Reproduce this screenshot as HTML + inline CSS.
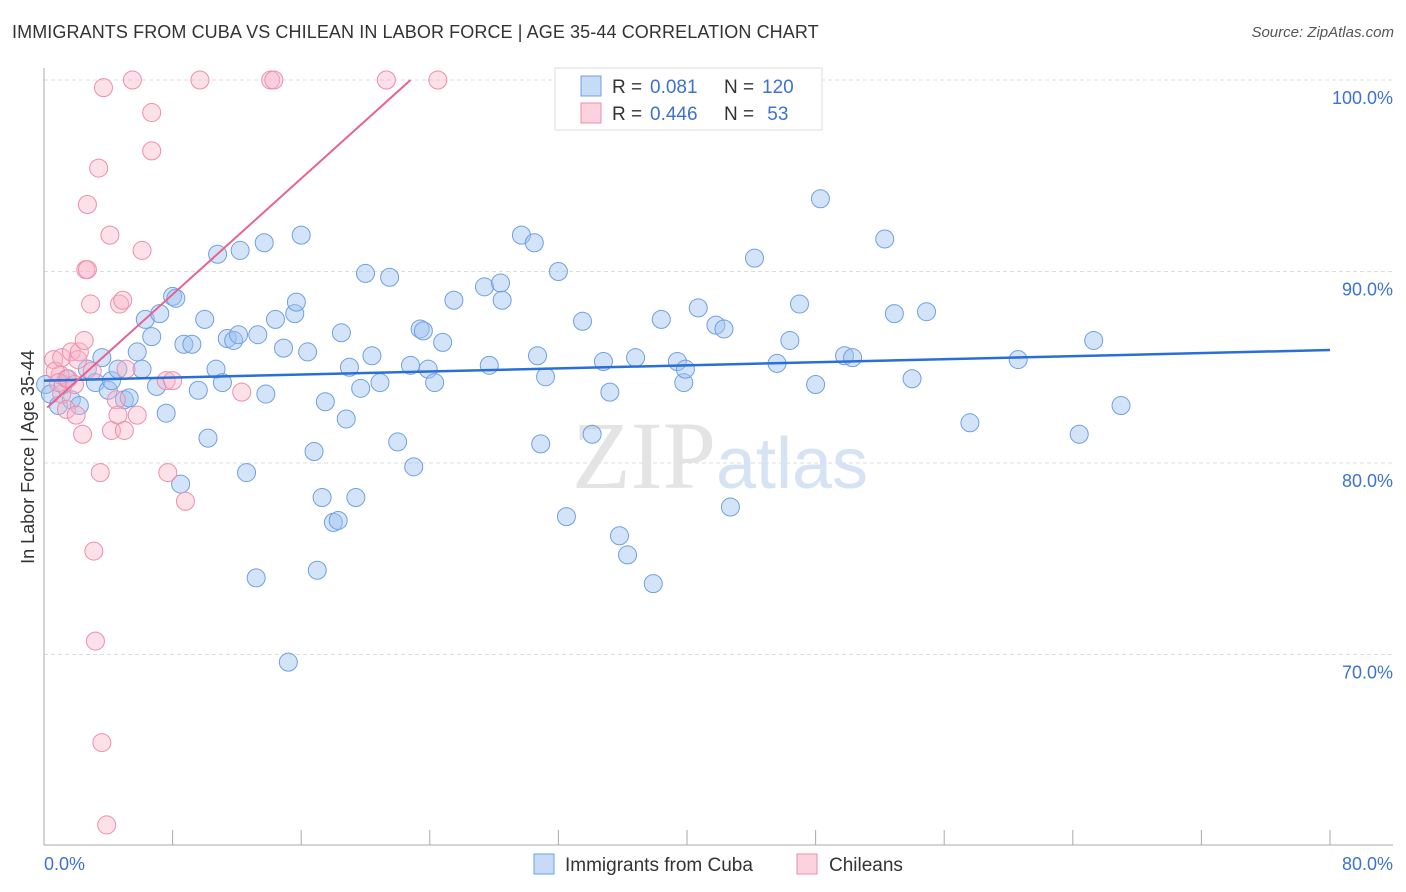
<!DOCTYPE html>
<html><head><meta charset="utf-8"><style>
body{margin:0;background:#fff;font-family:"Liberation Sans",sans-serif;}
#wrap{position:relative;width:1406px;height:892px;overflow:hidden;}
.title{position:absolute;left:12px;top:22px;font-size:18px;color:#333;letter-spacing:0.1px}
.src{position:absolute;right:12px;top:24px;font-size:15px;color:#555;font-style:italic}
</style></head><body>
<div id="wrap">
<div class="title">IMMIGRANTS FROM CUBA VS CHILEAN IN LABOR FORCE | AGE 35-44 CORRELATION CHART</div>
<div class="src">Source: ZipAtlas.com</div>
<svg id="svg" width="1406" height="892" style="position:absolute;left:0;top:0"></svg>
</div>
<script>
const blueX=[0.1,0.4,0.9,1.2,1.7,2.2,1.4,2.7,3.2,3.6,4.0,4.2,4.6,5.0,5.3,5.8,6.1,6.3,6.7,7.0,7.2,7.6,8.0,8.2,8.5,8.7,9.2,9.6,10.0,10.2,10.7,10.8,11.1,11.4,11.8,12.1,12.2,12.6,13.2,13.3,13.7,13.8,14.4,14.9,15.2,15.6,15.7,16.0,16.4,16.8,17.0,17.3,17.5,18.0,18.3,18.5,18.8,19.0,19.4,19.7,20.0,20.4,20.9,21.5,22.0,22.8,23.0,23.4,23.6,23.9,24.3,24.8,25.5,27.4,27.7,28.4,28.5,29.7,30.5,30.7,30.9,31.2,32.0,32.5,33.5,34.1,34.8,35.2,35.8,36.3,36.8,37.9,38.4,39.4,39.8,39.9,40.7,41.8,42.3,42.7,44.2,45.6,46.4,47.0,48.0,48.3,49.8,50.3,52.3,52.9,54.0,54.9,57.6,60.6,64.4,65.3,67.0];
const blueY=[84.1,83.6,83.0,84.1,83.3,83.0,84.4,84.9,84.2,85.5,83.8,84.3,84.9,83.3,83.4,85.8,84.9,87.5,86.6,84.0,87.8,82.6,88.7,88.6,78.9,86.2,86.2,83.8,87.5,81.3,84.9,90.9,84.2,86.5,86.4,86.7,91.1,79.5,74.0,86.7,91.5,83.6,87.5,86.0,69.6,87.8,88.4,91.9,85.8,80.6,74.4,78.2,83.2,76.9,77.0,86.8,82.3,85.0,78.2,83.9,89.9,85.6,84.2,89.7,81.1,85.1,79.8,87.0,86.9,84.9,84.2,86.3,88.5,89.2,85.1,89.4,88.5,91.9,91.5,85.6,81.0,84.5,90.0,77.2,87.4,81.5,85.3,83.7,76.2,75.2,85.5,73.7,87.5,85.3,84.2,84.9,88.1,87.2,87.0,77.7,90.7,85.2,86.4,88.3,84.1,93.8,85.6,85.5,91.7,87.8,84.4,87.9,82.1,85.4,81.5,86.4,83.0];
const pinkX=[1.0,1.1,0.6,0.7,0.9,1.1,1.4,1.5,1.7,1.9,2.0,2.1,2.2,2.4,2.5,2.6,2.7,2.7,2.9,3.0,3.1,3.2,3.4,3.5,3.6,3.7,3.9,4.1,4.2,4.5,4.6,4.7,4.9,5.0,5.1,5.5,5.8,6.1,6.7,6.7,7.6,7.7,8.0,8.8,9.7,12.3,14.1,14.3,21.3,24.5];
const pinkY=[84.6,83.6,85.4,84.8,84.2,85.5,82.8,84.4,85.8,84.1,82.5,85.4,85.8,81.5,86.4,90.1,90.1,93.5,88.3,84.8,75.4,70.7,95.4,79.5,65.4,99.6,61.1,91.9,81.7,83.3,82.5,88.3,88.5,81.7,84.9,100,82.5,91.1,98.3,96.3,84.3,79.5,84.3,78.0,100,83.7,100,100,100,100];
const blueTrend=[84.3,85.9]; // at x=0 and x=80
const pinkTrend=[82.9,100,22.8]; // y at 0, y end, x end
const yTicks=[100,90,80,70];
const yTickLabels=["100.0%","90.0%","80.0%","70.0%"];

const NS="http://www.w3.org/2000/svg";
const svg=document.getElementById('svg');
const X=v=>44+v*1286/80;
const Y=v=>80+(100-v)*19.15;
function mk(t,a,p){const e=document.createElementNS(NS,t);for(const k in a)e.setAttribute(k,a[k]);(p||svg).appendChild(e);return e;}

yTicks.forEach((t,i)=>{
 const g=mk('line',{x1:44,x2:1393,y1:Y(t),y2:Y(t),stroke:'#dcdcdc','stroke-dasharray':'4,3'});
 
 
 const l=mk('text',{x:1393,y:Y(t)+24,'text-anchor':'end','font-size':18,fill:'#3d72d0','font-family':'Liberation Sans'});
 l.textContent=yTickLabels[i];
 
 
});
let ax=mk('line',{x1:44,x2:44,y1:68,y2:845,stroke:'#aaa'});


let bx=mk('line',{x1:44,x2:1393,y1:845,y2:845,stroke:'#aaa'});


for(let i=0;i<=10;i++){
 const t=mk('line',{x1:X(i*8),x2:X(i*8),y1:830,y2:845,stroke:'#aaa'});
 
 
}
let wm=mk('text',{x:720,y:488,'text-anchor':'middle','font-size':96,fill:'#e4e4e4','font-family':'Liberation Serif'});
wm.innerHTML='ZIP<tspan font-family="Liberation Sans" font-size="72" fill="#d6e3f4">atlas</tspan>';



for(let i=0;i<blueX.length;i++){
 const c=mk('circle',{cx:X(blueX[i]),cy:Y(blueY[i]),r:9,fill:'rgba(160,195,240,0.45)',stroke:'#6f9fe2','stroke-width':1});
 
 
}
for(let i=0;i<pinkX.length;i++){
 const c=mk('circle',{cx:X(pinkX[i]),cy:Y(pinkY[i]),r:9,fill:'rgba(248,180,200,0.4)',stroke:'#ef8dac','stroke-width':1});
 
 
}
let bl=mk('line',{x1:X(0),y1:Y(blueTrend[0]),x2:X(80),y2:Y(blueTrend[1]),stroke:'#2a6fd6','stroke-width':2.5});


let pl=mk('line',{x1:X(0.2),y1:Y(pinkTrend[0]),x2:X(pinkTrend[2]),y2:Y(pinkTrend[1]),stroke:'#e8628f','stroke-width':2});



let xl0=mk('text',{x:44,y:870,'font-size':18,fill:'#3d72d0','font-family':'Liberation Sans'});xl0.textContent='0.0%';


let xl1=mk('text',{x:1393,y:870,'text-anchor':'end','font-size':18,fill:'#3d72d0','font-family':'Liberation Sans'});xl1.textContent='80.0%';


let yt=mk('text',{x:34,y:457,'text-anchor':'middle','font-size':18,fill:'#333',transform:'rotate(-90 34 457)','font-family':'Liberation Sans'});yt.textContent='In Labor Force | Age 35-44';



// top legend
let lb=mk('rect',{x:555,y:68,width:267,height:62,fill:'#fff',stroke:'#ddd'});


[[86,'rgba(160,195,240,0.6)','#6f9fe2','0.081','120'],[113,'rgba(248,180,200,0.6)','#ef8dac','0.446',' 53']].forEach((r,i)=>{
 const s=mk('rect',{x:581,y:r[0]-10,width:20,height:20,fill:r[1],stroke:r[2]});
 
 
 const t=mk('text',{x:612,y:r[0]+7,'font-size':19,fill:'#333','font-family':'Liberation Sans'});
 t.innerHTML='R = <tspan fill="#3d72d0" x="650">'+r[3]+'</tspan><tspan x="724">N =</tspan><tspan fill="#3d72d0" x="762">'+r[4]+'</tspan>';
 
 
});
// bottom legend
[[534,'rgba(160,195,240,0.6)','#6f9fe2','Immigrants from Cuba',565],[797,'rgba(248,180,200,0.6)','#ef8dac','Chileans',829]].forEach(r=>{
 const s=mk('rect',{x:r[0],y:854,width:20,height:20,fill:r[1],stroke:r[2]});
 
 
 const t=mk('text',{x:r[4],y:871,'font-size':19,fill:'#333','font-family':'Liberation Sans'});
 t.textContent=r[3];
 
 
});
</script>
</body></html>
